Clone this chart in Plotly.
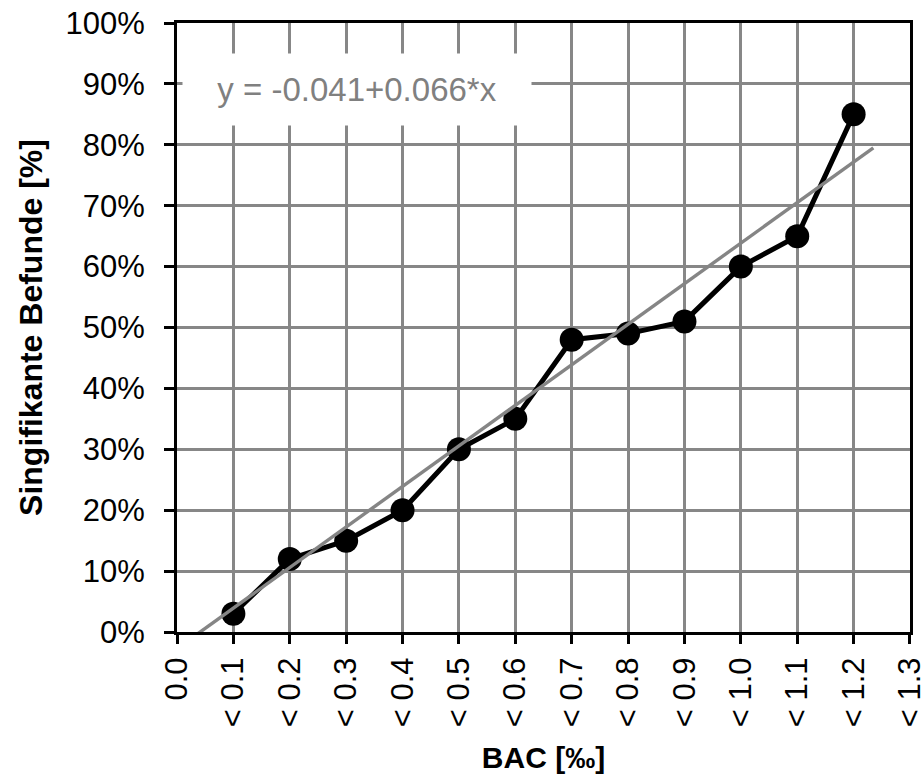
import plotly.graph_objects as go

# categories (BAC classes) and values
bac_labels = ["0.0", "< 0.1", "< 0.2", "< 0.3", "< 0.4", "< 0.5", "< 0.6",
              "< 0.7", "< 0.8", "< 0.9", "< 1.0", "< 1.1", "< 1.2", "< 1.3"]
point_pos = [1, 2, 3, 4, 5, 6, 7, 8, 9, 10, 11, 12]
befunde = [0.03, 0.12, 0.15, 0.20, 0.30, 0.35, 0.48, 0.49, 0.51, 0.60, 0.65, 0.85]
y_ticks = [0, 0.1, 0.2, 0.3, 0.4, 0.5, 0.6, 0.7, 0.8, 0.9, 1.0]
equation_text = "y = -0.041+0.066*x"
# trend line as drawn in the reference
trend_x = [0.32, 12.35]
trend_y = [-0.006, 0.795]

FONT = "Arial, Liberation Sans, sans-serif"
GRID = "#878787"

fig = go.Figure()
fig.add_trace(go.Scatter(
    x=point_pos, y=befunde, mode="lines+markers",
    line=dict(color="black", width=5),
    marker=dict(color="black", size=24),
    cliponaxis=False, showlegend=False, hoverinfo="skip"))
fig.add_trace(go.Scatter(
    x=trend_x, y=trend_y, mode="lines",
    line=dict(color="#858585", width=3.4),
    showlegend=False, hoverinfo="skip"))

fig.add_annotation(
    x=3.2, y=0.89, xref="x", yref="y",
    text=equation_text, showarrow=False,
    font=dict(family=FONT, size=33, color="#808080"),
    bgcolor="white", width=344, height=67, borderpad=2,
    xanchor="center", yanchor="middle")

fig.update_layout(
    width=922, height=776,
    margin=dict(l=177, r=12, t=23, b=144),
    paper_bgcolor="white", plot_bgcolor="white",
    font=dict(family=FONT, size=31, color="black"),
    xaxis=dict(
        range=[-0.0001, 13.0001], tickmode="array",
        tickvals=list(range(len(bac_labels))), ticktext=bac_labels,
        tickangle=-90, ticks="outside", ticklen=9, tickwidth=2.5,
        tickcolor="black", showline=True, linecolor="black", linewidth=3,
        mirror=True, showgrid=True, gridcolor=GRID, gridwidth=2.5,
        zeroline=False, ticklabelstandoff=1, automargin=False,
        ticklabeloverflow="allow",
        title=dict(text="<b>BAC [‰]</b>", font=dict(family=FONT, size=30),
                   standoff=21),
        tickfont=dict(family=FONT, size=31)),
    yaxis=dict(
        range=[0, 1], tickmode="array", tickvals=y_ticks, tickformat=".0%",
        ticks="outside", ticklen=10, tickwidth=2.5, tickcolor="black",
        showline=True, linecolor="black", linewidth=3, mirror=True,
        showgrid=True, gridcolor=GRID, gridwidth=2.5, zeroline=False,
        ticklabelstandoff=13, automargin=False, ticklabeloverflow="allow",
        title=dict(text="<b>Singifikante Befunde [%]</b>",
                   font=dict(family=FONT, size=32), standoff=14),
        tickfont=dict(family=FONT, size=31)),
)

fig.write_html(
    "out.html",
    config={"displayModeBar": False},
    post_script="document.body.style.margin='0';document.body.style.overflow='hidden';")
